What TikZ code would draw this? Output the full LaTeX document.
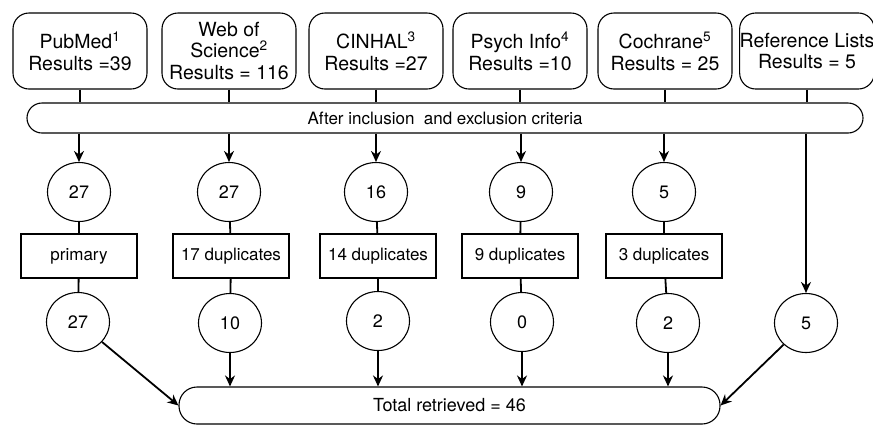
\documentclass[tikz,border=0pt]{standalone}
\usepackage{fontspec}
\setmainfont{TeX Gyre Heros}
\usetikzlibrary{shapes.geometric,arrows.meta}
\tikzset{
  srcbox/.style={draw, rounded corners=16pt, minimum width=134pt, minimum height=76pt, align=center, inner sep=0pt, font=\fontsize{19.5}{21.5}\selectfont},
  hitcirc/.style={draw, ellipse, minimum width=63pt, minimum height=59pt, inner sep=0pt},
  dupbox/.style={draw, minimum width=116pt, minimum height=44pt, inner sep=0pt, font=\fontsize{17}{20}\selectfont},
  pill/.style={draw, rounded corners=15pt, inner sep=0pt},
  link/.style={line width=1.8pt},
  feed/.style={line width=1.8pt, -{Stealth[length=11pt,width=10pt]}},
}
\begin{document}
\begin{tikzpicture}[x=1pt, y=-1pt, line width=1.1pt, font=\fontsize{18}{21}\selectfont]
\useasboundingbox (0,0) rectangle (873,424);
% sources
\node[srcbox] (pubmed) at (80,51) {PubMed\textsuperscript{1}\\Results =39};
\node[srcbox] (wos) at (229,51) {Web of\\Science\textsuperscript{2}\\Results = 116};
\node[srcbox] (cinhal) at (376,51) {CINHAL\textsuperscript{3}\\Results =27};
\node[srcbox] (psych) at (520,51) {Psych Info\textsuperscript{4}\\Results =10};
\node[srcbox] (cochrane) at (665,51) {Cochrane\textsuperscript{5}\\Results = 25};
\node[srcbox] (reflist) at (807,51) {Reference Lists\\Results = 5};
\node[pill, minimum width=836pt, minimum height=30pt, font=\fontsize{17}{20}\selectfont] (crit) at (445,118) {After inclusion\ \ and exclusion criteria};
% after criteria
\node[hitcirc] (a1) at (79,192) {27};
\node[hitcirc] (a2) at (229,192) {27};
\node[hitcirc] (a3) at (376,192) {16};
\node[hitcirc] (a4) at (521,192) {9};
\node[hitcirc] (a5) at (664,192) {5};
% duplicates
\node[dupbox] (d1) at (79,256) {primary};
\node[dupbox] (d2) at (231,256) {17 duplicates};
\node[dupbox] (d3) at (378,256) {14 duplicates};
\node[dupbox] (d4) at (520,256) {9 duplicates};
\node[dupbox] (d5) at (664,256) {3 duplicates};
% kept
\node[hitcirc] (k1) at (78,322) {27};
\node[hitcirc] (k2) at (230,323) {10};
\node[hitcirc] (k3) at (378,321) {2};
\node[hitcirc] (k4) at (522,322) {0};
\node[hitcirc] (k5) at (668,323) {2};
\node[hitcirc] (k6) at (806,323) {5};
\node[pill, minimum width=541pt, minimum height=37pt, rounded corners=18pt] (total) at (449.5,405.5) {Total retrieved = 46};
% connectors
\foreach \s in {pubmed,wos,cinhal,psych,cochrane,reflist}
  \draw[link] (\s) -- (\s |- crit.north);
\foreach \i in {1,...,5} {
  \draw[feed] (a\i |- crit.south) -- (a\i);
  \draw[link] (a\i) -- (d\i);
  \draw[link] (d\i) -- (k\i);
}
\draw[feed] (k6 |- crit.south) -- (k6);
\foreach \i in {2,...,5}
  \draw[feed] (k\i) -- (k\i |- total.north);
\draw[feed] (k1) -- (total.west);
\draw[feed] (k6) -- (total.east);
\end{tikzpicture}
\end{document}
